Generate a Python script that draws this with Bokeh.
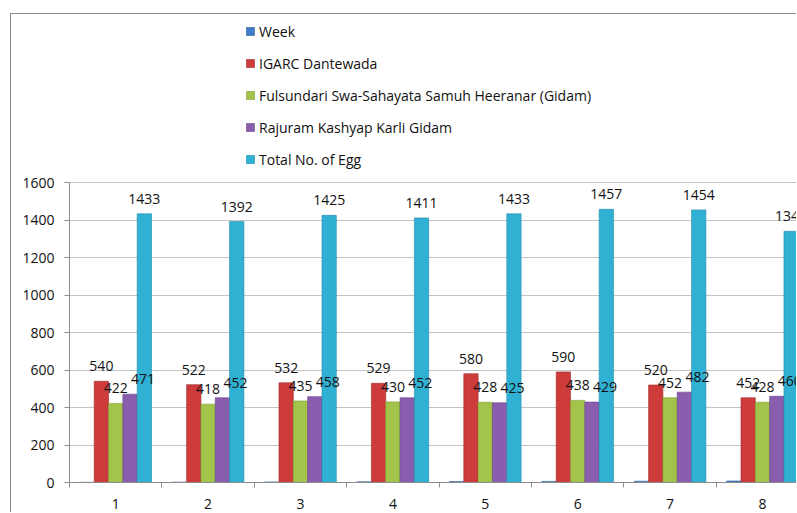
from bokeh.plotting import figure
from bokeh.models import (ColumnDataSource, Range1d, FixedTicker, Legend, LegendItem)
from bokeh.transform import dodge
from bokeh.core.properties import value
from bokeh.embed import file_html
from bokeh.resources import INLINE

# ---- data ----
weeks = [1, 2, 3, 4, 5, 6, 7, 8]
week_series = [1, 2, 3, 4, 5, 6, 7, 8]
igarc = [540, 522, 532, 529, 580, 590, 520, 452]
fulsundari = [422, 418, 435, 430, 428, 438, 452, 428]
rajuram = [471, 452, 458, 452, 425, 429, 482, 460]
total = [1433, 1392, 1425, 1411, 1433, 1457, 1454, 1340]
series_names = ["Week", "IGARC Dantewada",
                "Fulsundari Swa-Sahayata Samuh Heeranar (Gidam)",
                "Rajuram Kashyap Karli Gidam", "Total No. of Egg"]
y_ticks = [0, 200, 400, 600, 800, 1000, 1200, 1400, 1600]

colors = ["#3F7DC8", "#CE3B3B", "#A2C44A", "#8A5EAE", "#30B1D3"]
edges = ["#2C5E9E", "#A02A2A", "#7E9C33", "#67438A", "#1E8BAA"]

source = ColumnDataSource(dict(
    week=weeks,
    s0=week_series, s1=igarc, s2=fulsundari, s3=rajuram, s4=total,
    l1=[str(v) for v in igarc], l2=[str(v) for v in fulsundari],
    l3=[str(v) for v in rajuram], l4=[str(v) for v in total],
))

FONT = value("Open Sans")
W = 0.155

p = figure(width=786, height=499, output_backend="svg", toolbar_location=None,
           x_range=Range1d(0.5, 8.379), y_range=Range1d(0, 2496),
           min_border_left=58, min_border_right=0, min_border_bottom=31,
           min_border_top=0, outline_line_color=None)
p.styles = {"border-left": "1px solid #8a8a8a", "border-top": "1px solid #8a8a8a",
            "margin-left": "10px", "margin-top": "13px"}

renderers = []
for i, key in enumerate(["s0", "s1", "s2", "s3", "s4"]):
    r = p.vbar(x=dodge("week", (i - 2) * W, range=p.x_range), top=key, width=W,
               source=source, fill_color=colors[i], line_color=edges[i], line_width=0.6)
    renderers.append(r)

# data labels
for i, key in enumerate(["l1", "l2", "l3", "l4"], start=1):
    xo = 13 if i == 3 else 0
    p.text(x=dodge("week", (i - 2) * W, range=p.x_range), y="s%d" % i, text=key,
           source=source, text_font=FONT, text_font_size="14px", text_color="#111111",
           text_align="center", text_baseline="middle", x_offset=xo, y_offset=-15)

# axes
p.yaxis.ticker = FixedTicker(ticks=y_ticks)
p.yaxis.bounds = (0, 1600)
p.yaxis.major_tick_out = 5
p.yaxis.major_tick_in = 0
p.yaxis.minor_tick_line_color = None
p.yaxis.major_label_standoff = 10
p.yaxis.axis_line_color = "#8c8c8c"
p.yaxis.major_tick_line_color = "#8c8c8c"
p.yaxis.major_label_text_font = "Open Sans"
p.yaxis.major_label_text_font_size = "14px"
p.yaxis.major_label_text_color = "#111111"

p.xaxis.ticker = FixedTicker(ticks=weeks, minor_ticks=[w - 0.5 for w in weeks] + [8.5])
p.xaxis.major_tick_out = 0
p.xaxis.major_tick_in = 0
p.xaxis.minor_tick_out = 5
p.xaxis.minor_tick_in = 0
p.xaxis.minor_tick_line_color = "#8c8c8c"
p.xaxis.major_label_standoff = 11
p.xaxis.axis_line_color = "#8c8c8c"
p.xaxis.major_label_text_font = "Open Sans"
p.xaxis.major_label_text_font_size = "14px"
p.xaxis.major_label_text_color = "#111111"

p.xgrid.grid_line_color = None
p.ygrid.ticker = FixedTicker(ticks=y_ticks)
p.ygrid.grid_line_color = "#c4c4c4"
p.ygrid.grid_line_width = 1

legend = Legend(items=[LegendItem(label=n, renderers=[r]) for n, r in zip(series_names, renderers)],
                location=(176, 313), orientation="vertical",
                margin=0, padding=13, spacing=12,
                glyph_width=10, glyph_height=10, label_height=20, label_standoff=4,
                label_text_font="Open Sans", label_text_font_size="14px",
                label_text_color="#111111",
                border_line_color=None, background_fill_alpha=0)
p.add_layout(legend, "center")

open("out.html", "w").write(file_html(p, INLINE))
